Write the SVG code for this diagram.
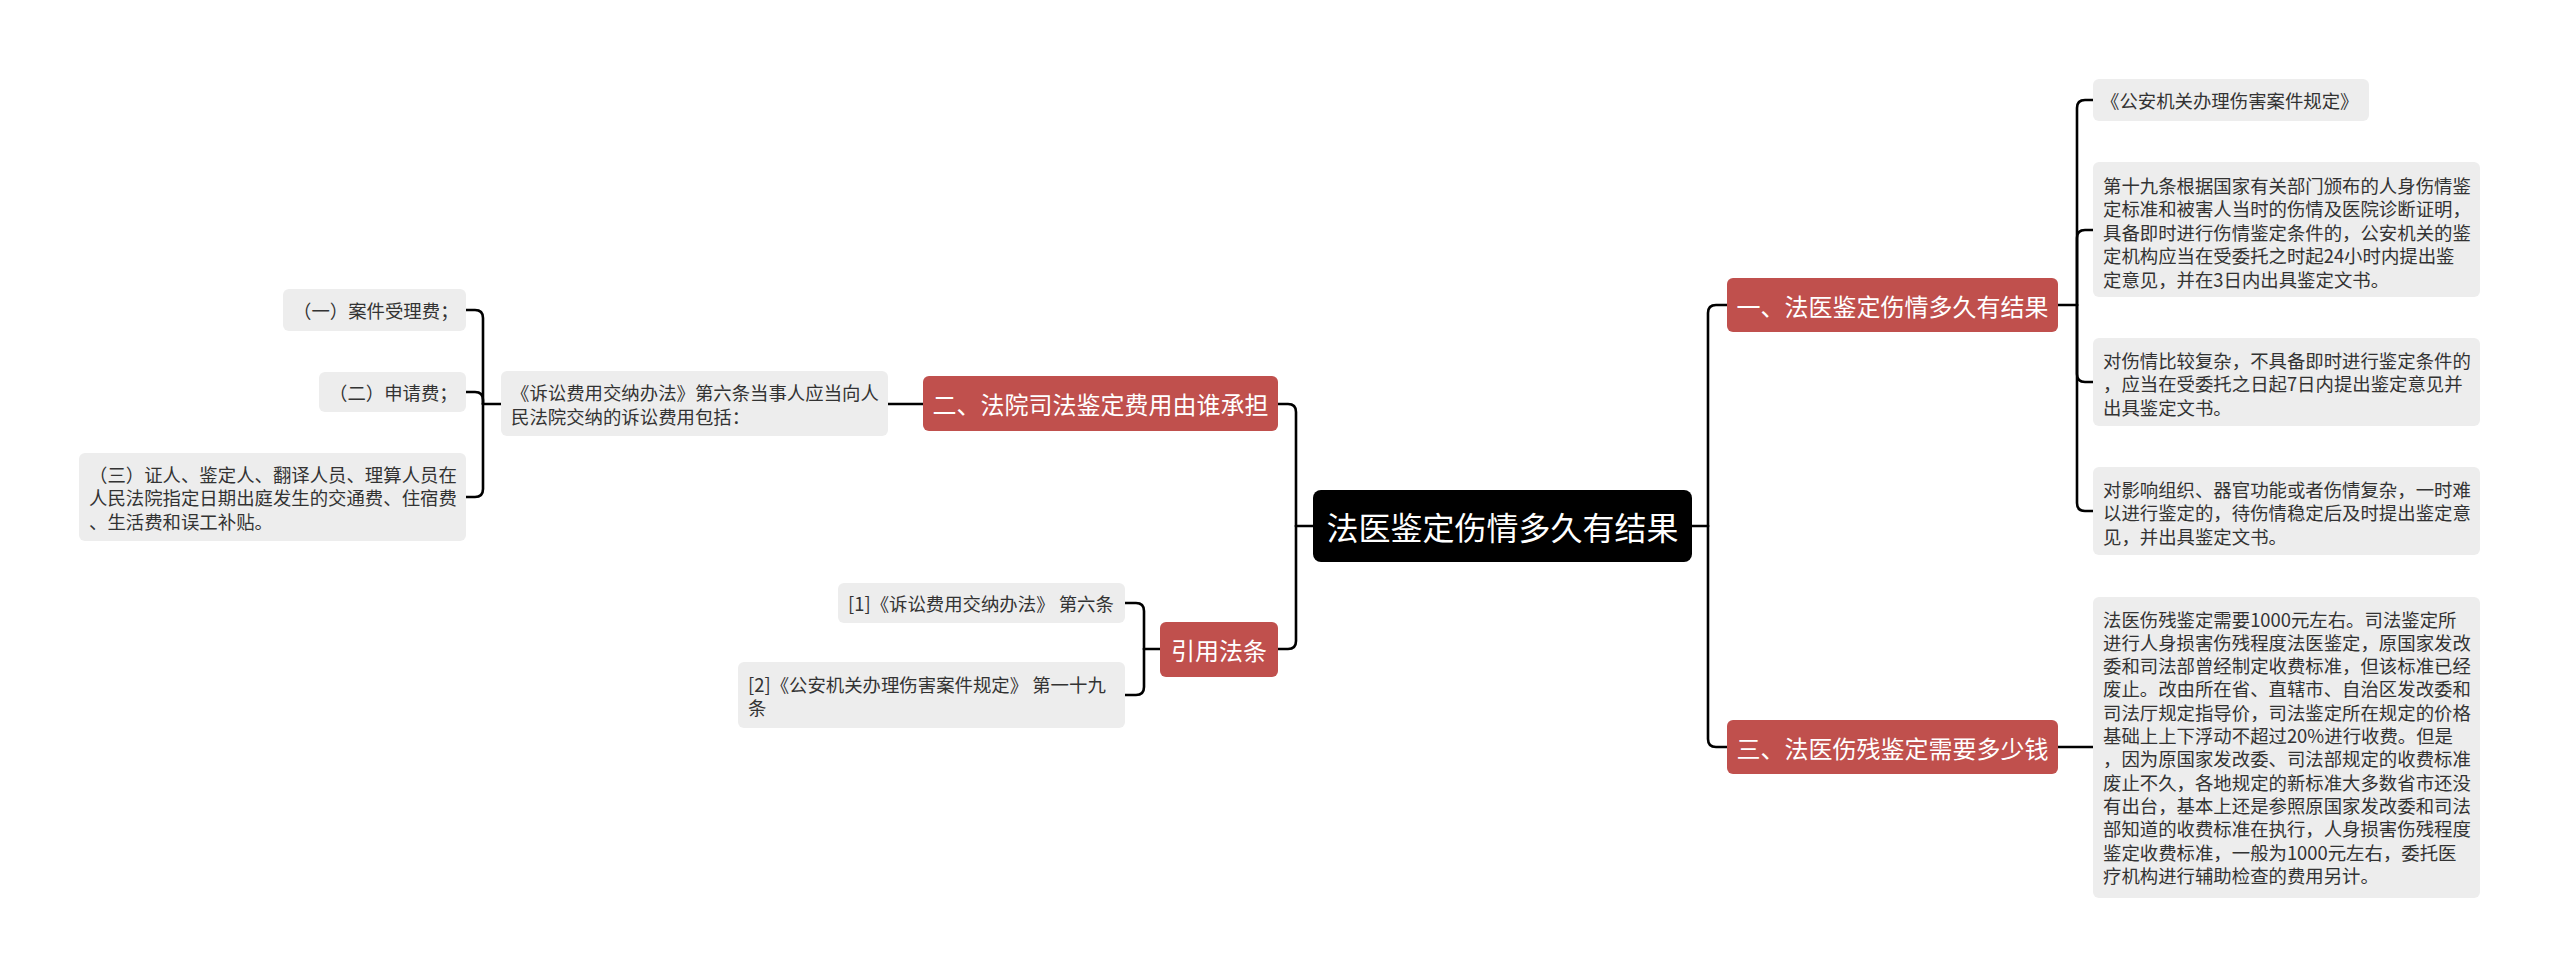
<svg xmlns="http://www.w3.org/2000/svg" width="2560" height="978" viewBox="0 0 2560 978">
<style>
text{font-family:"Noto Sans CJK SC","Microsoft YaHei","Noto Sans",sans-serif;dominant-baseline:central}
.root rect{fill:#000}
.root text{fill:#fff;font-size:32px;text-anchor:middle}
.br rect{fill:#C0504D}
.br text{fill:#fff;font-size:24px;text-anchor:middle}
.lf rect{fill:#EDEDED}
.lf text{fill:#333;font-size:18.4px}
.conn path{fill:none;stroke:#000;stroke-width:2.6;stroke-linecap:round;stroke-linejoin:round}
</style>
<rect width="2560" height="978" fill="#fff"/>
<g id="connectors" class="conn">
<path d="M1692 526 H1708"/>
<path d="M1708 526 V313 Q1708 305 1716 305 H1727"/>
<path d="M1708 526 V739 Q1708 747 1716 747 H1727"/>
<path d="M2058 305 H2077"/>
<path d="M2077 305 V108 Q2077 100 2085 100 H2093"/>
<path d="M2077 305 V238 Q2077 230 2085 230 H2093"/>
<path d="M2077 305 V374 Q2077 382 2085 382 H2093"/>
<path d="M2077 305 V503 Q2077 511 2085 511 H2093"/>
<path d="M2058 747 H2093"/>
<path d="M1313 526 H1296"/>
<path d="M1296 526 V412 Q1296 404 1288 404 H1278"/>
<path d="M1296 526 V641 Q1296 649 1288 649 H1278"/>
<path d="M923 404 H888"/>
<path d="M501 404 H483"/>
<path d="M483 404 V318 Q483 310 475 310 H466"/>
<path d="M483 404 V400 Q483 392 475 392 H466"/>
<path d="M483 404 V489 Q483 497 475 497 H466"/>
<path d="M1160 649 H1144"/>
<path d="M1144 649 V611 Q1144 603 1136 603 H1125"/>
<path d="M1144 649 V687 Q1144 695 1136 695 H1125"/>
</g>
<g id="root" class="root">
<rect x="1313" y="490" width="379" height="72" rx="8"/>
<text x="1502.5" y="526">法医鉴定伤情多久有结果</text>
</g>
<g id="branch1" class="br">
<rect x="1727" y="278" width="331" height="54" rx="6"/>
<text x="1892.5" y="305">一、法医鉴定伤情多久有结果</text>
</g>
<g id="branch3" class="br">
<rect x="1727" y="720" width="331" height="54" rx="6"/>
<text x="1892.5" y="747">三、法医伤残鉴定需要多少钱</text>
</g>
<g id="branch2" class="br">
<rect x="923" y="376" width="355" height="55" rx="6"/>
<text x="1100.5" y="403.5">二、法院司法鉴定费用由谁承担</text>
</g>
<g id="branch4" class="br">
<rect x="1160" y="622" width="118" height="55" rx="6"/>
<text x="1219" y="649.5">引用法条</text>
</g>
<g id="leaf1" class="lf">
<rect x="2093" y="79" width="276" height="42" rx="6"/>
<text x="2101" y="100">《公安机关办理伤害案件规定》</text>
</g>
<g id="leaf2" class="lf">
<rect x="2093" y="162" width="387" height="135" rx="6"/>
<text x="2103" y="184.5">第十九条根据国家有关部门颁布的人身伤情鉴</text>
<text x="2103" y="208.1">定标准和被害人当时的伤情及医院诊断证明，</text>
<text x="2103" y="231.7">具备即时进行伤情鉴定条件的，公安机关的鉴</text>
<text x="2103" y="255.3">定机构应当在受委托之时起24小时内提出鉴</text>
<text x="2103" y="278.9">定意见，并在3日内出具鉴定文书。</text>
</g>
<g id="leaf3" class="lf">
<rect x="2093" y="338" width="387" height="88" rx="6"/>
<text x="2103" y="359.8">对伤情比较复杂，不具备即时进行鉴定条件的</text>
<text x="2103" y="383.3">，应当在受委托之日起7日内提出鉴定意见并</text>
<text x="2103" y="406.8">出具鉴定文书。</text>
</g>
<g id="leaf4" class="lf">
<rect x="2093" y="467" width="387" height="88" rx="6"/>
<text x="2103" y="488.8">对影响组织、器官功能或者伤情复杂，一时难</text>
<text x="2103" y="512.3">以进行鉴定的，待伤情稳定后及时提出鉴定意</text>
<text x="2103" y="535.8">见，并出具鉴定文书。</text>
</g>
<g id="leaf5" class="lf">
<rect x="2093" y="597" width="387" height="301" rx="6"/>
<text x="2103" y="618.5">法医伤残鉴定需要1000元左右。司法鉴定所</text>
<text x="2103" y="641.8">进行人身损害伤残程度法医鉴定，原国家发改</text>
<text x="2103" y="665.1">委和司法部曾经制定收费标准，但该标准已经</text>
<text x="2103" y="688.4">废止。改由所在省、直辖市、自治区发改委和</text>
<text x="2103" y="711.7">司法厅规定指导价，司法鉴定所在规定的价格</text>
<text x="2103" y="735">基础上上下浮动不超过20%进行收费。但是</text>
<text x="2103" y="758.3">，因为原国家发改委、司法部规定的收费标准</text>
<text x="2103" y="781.6">废止不久，各地规定的新标准大多数省市还没</text>
<text x="2103" y="804.9">有出台，基本上还是参照原国家发改委和司法</text>
<text x="2103" y="828.2">部知道的收费标准在执行，人身损害伤残程度</text>
<text x="2103" y="851.5">鉴定收费标准，一般为1000元左右，委托医</text>
<text x="2103" y="874.8">疗机构进行辅助检查的费用另计。</text>
</g>
<g id="leaf6" class="lf">
<rect x="501" y="371" width="387" height="65" rx="6"/>
<text x="511" y="392">《诉讼费用交纳办法》第六条当事人应当向人</text>
<text x="511" y="415.5">民法院交纳的诉讼费用包括：</text>
</g>
<g id="leaf7" class="lf">
<rect x="283" y="289" width="183" height="42" rx="6"/>
<text x="293" y="310">（一）案件受理费；</text>
</g>
<g id="leaf8" class="lf">
<rect x="319" y="372" width="147" height="40" rx="6"/>
<text x="329" y="392">（二）申请费；</text>
</g>
<g id="leaf9" class="lf">
<rect x="79" y="453" width="387" height="88" rx="6"/>
<text x="89" y="473.5">（三）证人、鉴定人、翻译人员、理算人员在</text>
<text x="89" y="497">人民法院指定日期出庭发生的交通费、住宿费</text>
<text x="89" y="520.5">、生活费和误工补贴。</text>
</g>
<g id="ref1" class="lf">
<rect x="838" y="583" width="287" height="40" rx="6"/>
<text x="848" y="603">[1]《诉讼费用交纳办法》 第六条</text>
</g>
<g id="ref2" class="lf">
<rect x="738" y="662" width="387" height="66" rx="6"/>
<text x="748" y="683.5">[2]《公安机关办理伤害案件规定》 第一十九</text>
<text x="748" y="707">条</text>
</g>
</svg>
